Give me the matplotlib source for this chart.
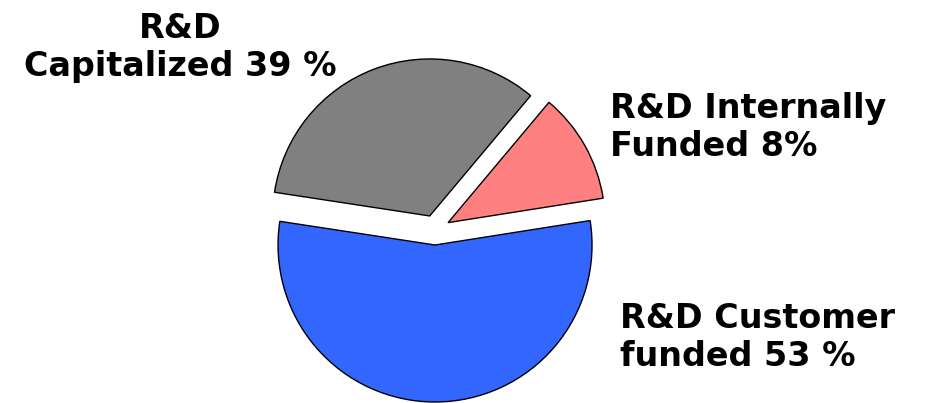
import matplotlib
matplotlib.use("Agg")
import matplotlib.pyplot as plt

# Wedge shares as drawn in the picture (label texts state the reported figures)
categories = ["R&D Capitalized", "R&D Customer funded", "R&D Internally Funded"]
shares = [33.7, 54.9, 11.4]
label_texts = ["R&D\nCapitalized 39 %", "R&D Customer\nfunded 53 %", "R&D Internally\nFunded 8%"]
colors = ["#808080", "#3366FF", "#FF8080"]

W, H = 932, 403
fig = plt.figure(figsize=(W / 100, H / 100), dpi=100)
ax = fig.add_axes([0, 0, 1, 1])
ax.pie(shares, colors=colors, startangle=50, counterclock=True,
       explode=[15, 15, 15], center=(435, H - 230), radius=157,
       wedgeprops=dict(edgecolor="black", linewidth=1.0), frame=False)
ax.set_xlim(0, W)
ax.set_ylim(0, H)
ax.set_aspect("auto")
ax.axis("off")

font = dict(family="DejaVu Sans", weight="bold", fontsize=24, color="black")
ax.text(180, H - 76, label_texts[0], ha="center", va="baseline",
        multialignment="center", linespacing=1.2, **font)
ax.text(620, H - 366, label_texts[1], ha="left", va="baseline",
        multialignment="left", linespacing=1.2, **font)
ax.text(610, H - 156, label_texts[2], ha="left", va="baseline",
        multialignment="left", linespacing=1.2, **font)

fig.savefig("out.png", dpi=100)
